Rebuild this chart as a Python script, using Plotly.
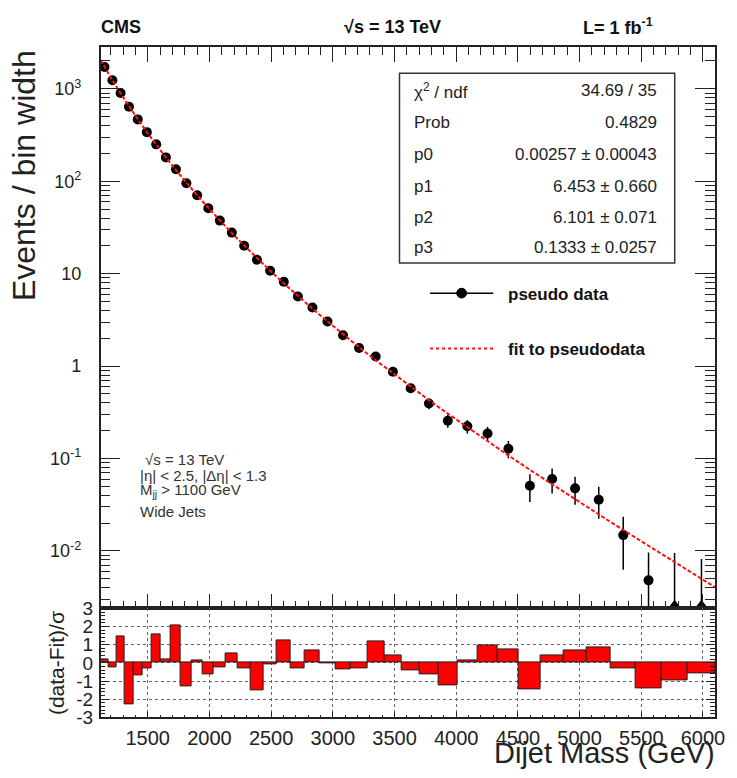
import plotly.graph_objects as go

# ---------------- data ----------------
bin_edges = [1118, 1181, 1246, 1313, 1383, 1455, 1530, 1607, 1687, 1770, 1856, 1945,
             2037, 2132, 2231, 2332, 2438, 2546, 2659, 2775, 2895, 3019, 3147, 3279,
             3416, 3558, 3704, 3854, 4010, 4171, 4337, 4509, 4686, 4869, 5058, 5253,
             5455, 5663, 5877, 6099]

# pseudo data: events / bin width (0 = empty bin, drawn as triangle at the axis bottom)
data_y = [1725, 1238, 899.8, 639.9, 466.9, 339.9, 250.7, 181.2, 134.6, 94.96, 70.55,
          51.02, 37.53, 27.83, 20.03, 14.18, 10.74, 8.195, 5.676, 4.307, 3.036, 2.161,
          1.571, 1.269, 0.8677, 0.5753, 0.3933, 0.2564, 0.2236, 0.1867, 0.1279, 0.0508,
          0.0601, 0.0476, 0.0359, 0.01485, 0.00481, 0, 0]
data_err = [5.23, 4.37, 3.67, 3.02, 2.55, 2.13, 1.80, 1.51, 1.27, 1.05, 0.89, 0.745,
            0.629, 0.530, 0.445, 0.366, 0.315, 0.269, 0.221, 0.190, 0.157, 0.130, 0.109,
            0.096, 0.078, 0.0628, 0.0512, 0.0405, 0.0373, 0.0335, 0.0273, 0.0169, 0.0181,
            0.0159, 0.01357, 0.00857, 0.00481, 0.0095, 0.0082]

# (data - fit) / sigma per bin
residuals = [0.2, -0.23, 1.48, -2.28, -0.71, -0.3, 1.55, 0.17, 2.09, -1.32, 0.16, -0.64,
             -0.25, 0.53, -0.28, -1.5, -0.1, 1.23, -0.28, 0.67, -0.04, -0.37, -0.28, 1.21,
             0.44, -0.39, -0.64, -1.23, 0.14, 0.98, 0.73, -1.48, 0.43, 0.71, 0.86, -0.29,
             -1.41, -0.95, -0.59]

# fit curve sampled along the mass axis
fit_mass = [1118, 1149.5, 1213.5, 1279.5, 1348, 1419, 1492.5, 1568.5, 1647, 1728.5, 1813,
            1900.5, 1991, 2084.5, 2181.5, 2281.5, 2385, 2492, 2602.5, 2717, 2835, 2957,
            3083, 3213, 3347.5, 3487, 3631, 3779, 3932, 4090.5, 4254, 4423, 4597.5,
            4777.5, 4963.5, 5155.5, 5354, 5559, 5770, 5988, 6099]
fit_value = [2042, 1724, 1239.4, 894.4, 646.8, 468.7, 340.5, 247.9, 180.9, 131.97, 96.36,
             70.41, 51.50, 37.69, 27.55, 20.16, 14.74, 10.776, 7.870, 5.738, 4.182, 3.043,
             2.210, 1.602, 1.158, 0.834, 0.5988, 0.4291, 0.3063, 0.2175, 0.1538, 0.1081,
             0.07558, 0.05255, 0.03628, 0.02486, 0.01688, 0.01136, 0.007577, 0.005000,
             0.004048]

stats_labels = ["χ<sup>2</sup> / ndf", "Prob", "p0", "p1", "p2", "p3"]
stats_values = ["34.69 / 35", "0.4829", "0.00257 ± 0.00043", "6.453 ± 0.660",
                "6.101 ± 0.071", "0.1333 ± 0.0257"]

x_tick_vals = [1500, 2000, 2500, 3000, 3500, 4000, 4500, 5000, 5500, 6000]
y_tick_vals = [0.01, 0.1, 1, 10, 100, 1000]
y_tick_text = ["10<sup>-2</sup>", "10<sup>-1</sup>", "1", "10", "10<sup>2</sup>", "10<sup>3</sup>"]
r_tick_vals = [-3, -2, -1, 0, 1, 2, 3]
r_tick_text = ["-3", "-2", "-1", "0", "1", "2", "3"]

# ---------------- derived ----------------
centers = [(a + b) / 2 for a, b in zip(bin_edges[:-1], bin_edges[1:])]
widths = [b - a for a, b in zip(bin_edges[:-1], bin_edges[1:])]
log_minor_vals = [m * 10 ** e for e in range(-3, 4) for m in range(2, 10)]

W, H = 737, 778
def px(x):
    return x / W
def py(y):
    return 1 - y / H

FONT = "Liberation Sans, Arial, Helvetica, sans-serif"
xrange_ = [bin_edges[0], bin_edges[-1]]
ylog_range = [-2.621, 3.4526]

nz = [i for i, v in enumerate(data_y) if v > 0]
zz = [i for i, v in enumerate(data_y) if v <= 0]

fig = go.Figure()

# data points
fig.add_trace(go.Scatter(
    x=[centers[i] for i in nz], y=[data_y[i] for i in nz], mode="markers",
    marker=dict(size=10, color="black", symbol="circle"),
    error_y=dict(type="data", symmetric=False,
                 array=[data_err[i] for i in nz],
                 arrayminus=[min(data_err[i], data_y[i] * 0.9999) for i in nz],
                 color="black", thickness=1.5, width=0),
    xaxis="x", yaxis="y", showlegend=False, cliponaxis=False))

# empty bins -> triangles at axis bottom
y_bottom = 10 ** (ylog_range[0] + 0.045)
fig.add_trace(go.Scatter(
    x=[centers[i] for i in zz], y=[y_bottom for _ in zz], mode="markers",
    marker=dict(size=9, color="black", symbol="triangle-up"),
    error_y=dict(type="data", symmetric=False,
                 array=[data_err[i] - y_bottom for i in zz],
                 arrayminus=[0 for _ in zz], color="black", thickness=1.5, width=0),
    xaxis="x", yaxis="y", showlegend=False))

# fit curve
fig.add_trace(go.Scatter(
    x=fit_mass, y=fit_value, mode="lines",
    line=dict(color="#ff1010", width=2, dash="4px,2px"),
    xaxis="x", yaxis="y", showlegend=False))

# residual histogram
fig.add_trace(go.Bar(
    x=centers, y=residuals, width=widths,
    marker=dict(color="#ff0000", line=dict(color="#222222", width=1)),
    xaxis="x2", yaxis="y2", showlegend=False))

axis_line = dict(showline=True, linecolor="#222222", linewidth=1.5, mirror="allticks",
                 tickcolor="#222222", zeroline=False)

fig.update_layout(
    width=W, height=H, margin=dict(l=0, r=0, t=0, b=0),
    paper_bgcolor="white", plot_bgcolor="white",
    font=dict(family=FONT, color="#222222"),
    bargap=0,
    xaxis=dict(domain=[px(102), px(725)], range=xrange_, anchor="y",
               tickmode="array", tickvals=x_tick_vals, showticklabels=False,
               ticks="inside", ticklen=15, tickwidth=1,
               minor=dict(ticks="inside", ticklen=8, dtick=100, tick0=1100,
                          tickcolor="#222222", showgrid=False),
               showgrid=False, **axis_line),
    yaxis=dict(domain=[py(615), py(38)], type="log", range=ylog_range, anchor="x",
               tickmode="array", tickvals=y_tick_vals, ticktext=y_tick_text,
               ticks="inside", ticklen=20, tickwidth=1,
               minor=dict(ticks="inside", ticklen=10, tickmode="array",
                          tickvals=log_minor_vals,
                          tickcolor="#222222", showgrid=False),
               tickfont=dict(size=18, family=FONT, color="#222222"),
               ticklabelstandoff=14, showgrid=False, **axis_line),
    xaxis2=dict(domain=[px(102), px(725)], range=xrange_, anchor="y2",
                tickmode="array", tickvals=x_tick_vals,
                ticks="inside", ticklen=6, tickwidth=1,
                minor=dict(ticks="inside", ticklen=3, dtick=100, tick0=1100,
                           tickcolor="#222222", showgrid=False),
                tickfont=dict(size=20, family=FONT, color="#222222"),
                ticklabelstandoff=2,
                showgrid=True, gridcolor="#666666", griddash="dot", gridwidth=1,
                showline=True, linecolor="#222222", linewidth=1.5, mirror=True,
                tickcolor="#222222", zeroline=False),
    yaxis2=dict(domain=[py(727), py(615)], range=[-3, 3], anchor="x2",
                tickmode="array", tickvals=r_tick_vals, ticktext=r_tick_text,
                ticks="inside", ticklen=9, tickwidth=1,
                minor=dict(ticks="inside", ticklen=5, dtick=0.2, tick0=0,
                           tickcolor="#222222", showgrid=False),
                tickfont=dict(size=19, family=FONT, color="#222222"),
                ticklabelstandoff=2,
                showgrid=True, gridcolor="#666666", griddash="dot", gridwidth=1,
                **axis_line),
)

shapes = []
annotations = []

# stats box
shapes.append(dict(type="rect", xref="paper", yref="paper",
                   x0=px(405), x1=px(684), y0=py(260), y1=py(65),
                   line=dict(color="#333333", width=1.5), fillcolor="white", layer="above"))
row_y = [83, 116, 148, 181, 213, 244]
for lab, val, yy in zip(stats_labels, stats_values, row_y):
    annotations.append(dict(xref="paper", yref="paper", x=px(418), y=py(yy), text=lab,
                            xanchor="left", yanchor="middle", showarrow=False,
                            font=dict(size=17, family=FONT, color="#222222")))
    annotations.append(dict(xref="paper", yref="paper", x=px(668), y=py(yy), text=val,
                            xanchor="right", yanchor="middle", showarrow=False,
                            font=dict(size=17, family=FONT, color="#222222")))

# legend
shapes.append(dict(type="line", xref="paper", yref="paper", x0=px(436), x1=px(500),
                   y0=py(291), y1=py(291), line=dict(color="black", width=1.5)))
shapes.append(dict(type="circle", xref="paper", yref="paper", x0=px(463), x1=px(473),
                   y0=py(296), y1=py(286), line=dict(color="black", width=1),
                   fillcolor="black"))
shapes.append(dict(type="line", xref="paper", yref="paper", x0=px(436), x1=px(500),
                   y0=py(348), y1=py(348), line=dict(color="#ff1010", width=2, dash="dot")))
annotations.append(dict(xref="paper", yref="paper", x=px(513), y=py(292),
                        text="<b>pseudo data</b>", xanchor="left", yanchor="middle",
                        showarrow=False, font=dict(size=17, family=FONT, color="#111111")))
annotations.append(dict(xref="paper", yref="paper", x=px(513), y=py(349),
                        text="<b>fit to pseudodata</b>", xanchor="left", yanchor="middle",
                        showarrow=False, font=dict(size=17, family=FONT, color="#111111")))

# selection text
sel = [("√s = 13 TeV", 145, 462), ("|η| &lt; 2.5, |Δη| &lt; 1.3", 140, 478),
       ("M<sub>jj</sub> &gt; 1100 GeV", 140, 494), ("Wide Jets", 140, 515)]
for t, xx, yy in sel:
    annotations.append(dict(xref="paper", yref="paper", x=px(xx), y=py(yy), text=t,
                            xanchor="left", yanchor="middle", showarrow=False,
                            font=dict(size=15, family=FONT, color="#333333")))

# header
annotations.append(dict(xref="paper", yref="paper", x=px(100), y=py(17), text="<b>CMS</b>",
                        xanchor="left", yanchor="middle", showarrow=False,
                        font=dict(size=18, family=FONT, color="#111111")))
annotations.append(dict(xref="paper", yref="paper", x=px(398), y=py(17),
                        text="<b>√s = 13 TeV</b>", xanchor="center", yanchor="middle",
                        showarrow=False, font=dict(size=18, family=FONT, color="#111111")))
annotations.append(dict(xref="paper", yref="paper", x=px(589), y=py(17),
                        text="<b>L= 1 fb<sup>-1</sup></b>", xanchor="left", yanchor="middle",
                        showarrow=False, font=dict(size=18, family=FONT, color="#111111")))

# axis titles
annotations.append(dict(xref="paper", yref="paper", x=px(25), y=py(170),
                        text="Events / bin width", textangle=-90, xanchor="center",
                        yanchor="middle", showarrow=False,
                        font=dict(size=32, family=FONT, color="#222222")))
annotations.append(dict(xref="paper", yref="paper", x=px(58), y=py(671),
                        text="(data-Fit)/σ", textangle=-90, xanchor="center",
                        yanchor="middle", showarrow=False,
                        font=dict(size=21, family=FONT, color="#222222")))
annotations.append(dict(xref="paper", yref="paper", x=px(727), y=py(764),
                        text="Dijet Mass (GeV)", xanchor="right", yanchor="middle",
                        showarrow=False, font=dict(size=29, family=FONT, color="#222222")))

fig.update_layout(shapes=shapes, annotations=annotations)
fig.write_html("out.html", config={"displayModeBar": False},
               post_script="document.body.style.margin='0';document.body.style.overflow='hidden';")
